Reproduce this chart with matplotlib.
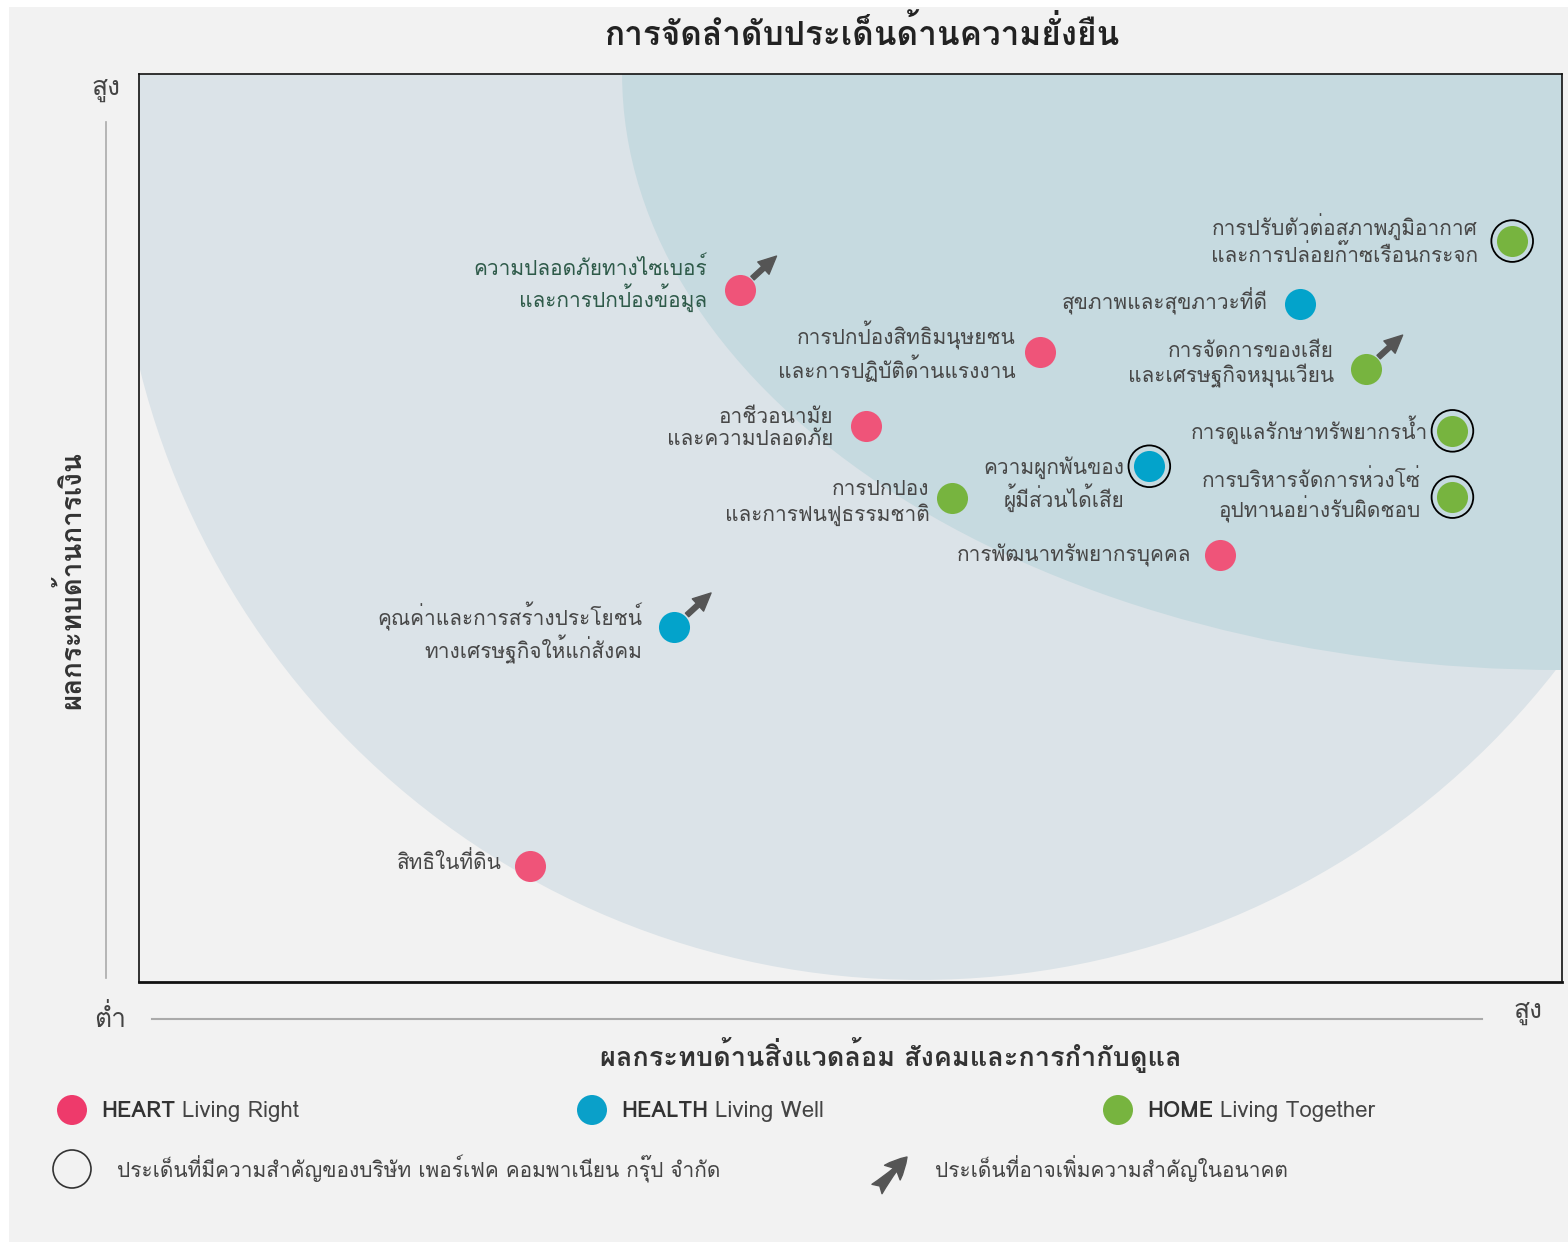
import matplotlib
matplotlib.use('Agg')
import matplotlib.pyplot as plt
from matplotlib import font_manager
from matplotlib.patches import Ellipse, Rectangle, FancyArrowPatch
from matplotlib.lines import Line2D
from matplotlib.transforms import offset_copy
from fontTools.ttLib import TTFont


def find_thai_font(bold=False):
    # look for any installed font that actually has Thai glyphs
    found = []
    for f in font_manager.fontManager.ttflist:
        try:
            tt = TTFont(f.fname, fontNumber=0, lazy=True)
            cmap = tt.getBestCmap()
        except Exception:
            continue
        if cmap and 0x0E01 in cmap and 0x0E33 in cmap:
            found.append(f)
    if not found:
        return None
    for f in found:
        if (f.weight in ('bold', 700)) == bold:
            return f.name
    return found[0].name


thai = find_thai_font()
thai_b = find_thai_font(bold=True) or thai
fam = [thai, 'DejaVu Sans'] if thai else ['DejaVu Sans']
famb = [thai_b, 'DejaVu Sans'] if thai_b else ['DejaVu Sans']
plt.rcParams['font.family'] = fam

W, H = 1568, 1242

# materiality issues (0-10 scale on both axes)
issues = [
    'ความปลอดภัยทางไซเบอร์\nและการปกป้องข้อมูล',
    'การปกป้องสิทธิมนุษยชน\nและการปฏิบัติด้านแรงงาน',
    'อาชีวอนามัย\nและความปลอดภัย',
    'การปกปอง\nและการฟนฟูธรรมชาติ',
    'คุณค่าและการสร้างประโยชน์\nทางเศรษฐกิจให้แก่สังคม',
    'สิทธิในที่ดิน',
    'ความผูกพันของ\nผู้มีส่วนได้เสีย',
    'การพัฒนาทรัพยากรบุคคล',
    'สุขภาพและสุขภาวะที่ดี',
    'การจัดการของเสีย\nและเศรษฐกิจหมุนเวียน',
    'การปรับตัวต่อสภาพภูมิอากาศ\nและการปล่อยก๊าซเรือนกระจก',
    'การดูแลรักษาทรัพยากรน้ำ',
    'การบริหารจัดการห่วงโซ่\nอุปทานอย่างรับผิดชอบ',
]
esg_impact = [4.22, 6.33, 5.11, 5.71, 3.76, 2.75, 7.10, 7.60, 8.16, 8.62, 9.65, 9.23, 9.23]
fin_impact = [7.62, 6.94, 6.12, 5.33, 3.91, 1.28, 5.68, 4.70, 7.47, 6.75, 8.16, 6.07, 5.34]
pillar = ['HEART', 'HEART', 'HEART', 'HOME', 'HEALTH', 'HEART', 'HEALTH',
          'HEART', 'HEALTH', 'HOME', 'HOME', 'HOME', 'HOME']
company_key = [False, False, False, False, False, False, True,
               False, False, False, True, True, True]
rising = [True, False, False, False, True, False, False,
          False, False, True, False, False, False]

pillar_names = ['HEART', 'HEALTH', 'HOME']
pillar_sub = ['Living Right', 'Living Well', 'Living Together']
colors = {'HEART': '#ef5479', 'HEALTH': '#03a3cb', 'HOME': '#77b43f'}
legend_colors = {'HEART': '#ee3a6b', 'HEALTH': '#0aa0c9', 'HOME': '#77b43f'}

# label placement (pixels left of / above each dot)
label_gap = [32, 24, 33, 22, 32, 29, 25, 29, 32, 32, 34, 24, 32]
label_lift = [6, 0, -2, -5, -6, 4, -18, 0, 2, 4, 1, 1, 1]


def fx(px):
    return px / W


def fy(py):
    return 1 - py / H


fig = plt.figure(figsize=(W / 100, H / 100), dpi=100)
fig.patch.set_facecolor('white')
fig.patches.append(Rectangle((fx(9), 0), 1 - fx(9), fy(7), transform=fig.transFigure,
                             facecolor='#f2f2f2', edgecolor='none', zorder=-10))

ax = fig.add_axes([fx(139), fy(982), fx(1562) - fx(139), (982 - 74) / H])
ax.set_xlim(0, 10)
ax.set_ylim(0, 10)
ax.set_facecolor('#f2f2f2')
ax.set_xticks([])
ax.set_yticks([])
for s in ax.spines.values():
    s.set_color('#111111')
    s.set_linewidth(1.2)
ax.spines['bottom'].set_linewidth(2)

# background zones
mid = Ellipse((0.5496, 0.8888), 1.1314, 1.773, transform=ax.transAxes,
              facecolor='#dbe3e8', edgecolor='none', zorder=0)
ax.add_patch(mid)
top = Ellipse((1.0, 1.0), 1.321, 1.3128, transform=ax.transAxes,
              facecolor='#c6dae0', edgecolor='none', zorder=0.5)
ax.add_patch(top)

arrow_style = dict(arrowstyle='simple,head_length=0.8,head_width=0.75,tail_width=0.22',
                   color='#555555', shrinkA=0, shrinkB=0, mutation_scale=16)

for i, (name, x, y, p, key, up) in enumerate(zip(issues, esg_impact, fin_impact, pillar,
                                                  company_key, rising)):
    ax.scatter(x, y, s=500, color=colors[p], zorder=3, linewidths=0)
    if key:
        ax.scatter(x, y, s=900, facecolors='none', edgecolors='black', linewidths=1.3, zorder=2)
    tc = '#2e5a49' if i == 0 else '#474747'
    ax.annotate(name, (x, y), xytext=(-label_gap[i], label_lift[i]), textcoords='offset pixels',
                ha='right', va='center', fontsize=15, color=tc, linespacing=1.2, zorder=4)
    if up:
        tip = offset_copy(ax.transData, fig=fig, x=37, y=34, units='dots')
        ax.annotate('', xy=(x, y), xycoords=tip, xytext=(-24, -22), textcoords='offset pixels',
                    arrowprops=arrow_style, zorder=4)

# title and axis captions
fig.text(fx(862), fy(33), 'การจัดลำดับประเด็นด้านความยั่งยืน', ha='center', va='center',
         fontsize=24, fontweight='bold', family=famb, color='#222222')
fig.text(fx(70), fy(580), 'ผลกระทบด้านการเงิน', ha='center', va='center', rotation=90,
         fontsize=20, fontweight='bold', family=famb, color='#333333')
fig.text(fx(891), fy(1055), 'ผลกระทบด้านสิ่งแวดล้อม สังคมและการกำกับดูแล', ha='center', va='center',
         fontsize=19.5, fontweight='bold', family=famb, color='#333333')

# low / high guides
fig.add_artist(Line2D([fx(106), fx(106)], [fy(122), fy(978)], color='#aaaaaa', lw=1.2))
fig.add_artist(Line2D([fx(152), fx(1482)], [fy(1019), fy(1019)], color='#aaaaaa', lw=1.5))
fig.text(fx(106), fy(90), 'สูง', ha='center', va='center', fontsize=19, color='#444444')
fig.text(fx(110), fy(1018), 'ต่ำ', ha='center', va='center', fontsize=19, color='#444444')
fig.text(fx(1528), fy(1013), 'สูง', ha='center', va='center', fontsize=19, color='#444444')

# legend
leg_x = [72, 592, 1118]
fig.canvas.draw()
for lx, name, sub in zip(leg_x, pillar_names, pillar_sub):
    fig.patches.append(Ellipse((fx(lx), fy(1110)), 30 / W, 30 / H, transform=fig.transFigure,
                               facecolor=legend_colors[name], edgecolor='none'))
    t = fig.text(fx(lx + 29), fy(1111), name, ha='left', va='center', fontsize=16,
                 fontweight='bold', family=famb, color='#333333')
    bb = t.get_window_extent(renderer=fig.canvas.get_renderer())
    fig.text(bb.x1 / W + fx(7), fy(1111), sub, ha='left', va='center', fontsize=16, color='#444444')

fig.patches.append(Ellipse((fx(72), fy(1169)), 38 / W, 38 / H, transform=fig.transFigure,
                           facecolor='none', edgecolor='#333333', lw=1.2))
fig.text(fx(117), fy(1169), 'ประเด็นที่มีความสำคัญของบริษัท เพอร์เฟค คอมพาเนียน กรุ๊ป จำกัด',
         ha='left', va='center', fontsize=15, color='#444444')
fig.add_artist(FancyArrowPatch((fx(877), fy(1189)), (fx(907), fy(1157)), transform=fig.transFigure,
                               arrowstyle='fancy,head_length=0.7,head_width=0.7,tail_width=0.45',
                               color='#555555', shrinkA=0, shrinkB=0, mutation_scale=22))
fig.text(fx(935), fy(1169), 'ประเด็นที่อาจเพิ่มความสำคัญในอนาคต', ha='left', va='center',
         fontsize=15, color='#444444')

fig.savefig('out.png', dpi=100, facecolor=fig.get_facecolor())
